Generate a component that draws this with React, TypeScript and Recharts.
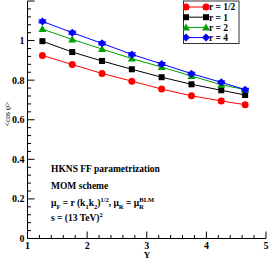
import { LineChart, Line, XAxis, YAxis, ErrorBar } from 'recharts'

const rapidity = [1.25, 1.75, 2.25, 2.75, 3.25, 3.75, 4.25, 4.65]
const rHalf = [0.925, 0.879, 0.834, 0.795, 0.755, 0.721, 0.695, 0.676]
const rOne = [0.997, 0.942, 0.897, 0.855, 0.815, 0.779, 0.749, 0.725]
const rTwo = [1.058, 1.006, 0.957, 0.909, 0.866, 0.821, 0.777, 0.752]
const rFour = [1.097, 1.04, 0.986, 0.93, 0.882, 0.833, 0.789, 0.752]
const rFourErr = [0.008, 0.008, 0.008, 0.008, 0.007, 0.007, 0.007, 0.007]

const xMajor = [1, 2, 3, 4, 5]
const yMajor = [0, 0.2, 0.4, 0.6, 0.8, 1, 1.2]
const yLabels = ['0', '0.2', '0.4', '0.6', '0.8', '1', '']

// 4 minor ticks between each major
const xTicks = Array.from({ length: 21 }, (_, i) => Math.round((1 + i * 0.2) * 100) / 100)
const yTicks = Array.from({ length: 31 }, (_, i) => Math.round(i * 0.04 * 100) / 100)

const data = rapidity.map((y, i) => ({
  y,
  half: rHalf[i],
  one: rOne[i],
  two: rTwo[i],
  four: rFour[i],
  err: rFourErr[i],
}))

const FONT = '"Liberation Serif", "Times New Roman", serif'

const isMajor = (v: number, majors: number[]) => majors.some(m => Math.abs(m - v) < 1e-6)

function Marker({ kind, cx, cy, color }: { kind: string; cx: number; cy: number; color: string }) {
  if (cx == null || cy == null) return null
  if (kind === 'circle') return <circle cx={cx} cy={cy} r={3.5} fill={color} />
  if (kind === 'square') return <rect x={cx - 3} y={cy - 3} width={6} height={6} fill={color} />
  if (kind === 'triangle')
    return <polygon points={`${cx},${cy - 4} ${cx - 4},${cy + 3} ${cx + 4},${cy + 3}`} fill={color} />
  return <polygon points={`${cx},${cy - 4} ${cx + 4},${cy} ${cx},${cy + 4} ${cx - 4},${cy}`} fill={color} />
}

const series = [
  { key: 'half', name: 'r = 1/2', color: '#ff0000', kind: 'circle' },
  { key: 'one', name: 'r = 1', color: '#000000', kind: 'square' },
  { key: 'two', name: 'r = 2', color: '#00a000', kind: 'triangle' },
  { key: 'four', name: 'r = 4', color: '#0000ff', kind: 'diamond' },
]

function BottomTick({ x, y, payload }: any) {
  const major = isMajor(payload.value, xMajor)
  return (
    <g>
      <line x1={x} x2={x} y1={y} y2={y - (major ? 7 : 3.5)} stroke="#000" />
      {major && (
        <text x={x} y={y + 10.5} textAnchor="middle" fontFamily={FONT} fontWeight="bold" fontSize={10} fill="#000">
          {payload.value}
        </text>
      )}
    </g>
  )
}

function TopTick({ x, y, payload }: any) {
  const major = isMajor(payload.value, xMajor)
  return <line x1={x} x2={x} y1={y} y2={y + (major ? 7 : 3.5)} stroke="#000" />
}

function LeftTick({ x, y, payload }: any) {
  const idx = yMajor.findIndex(m => Math.abs(m - payload.value) < 1e-6)
  const major = idx >= 0
  return (
    <g>
      <line x1={x} x2={x + (major ? 7 : 3.5)} y1={y} y2={y} stroke="#000" />
      {major && (
        <text x={x - 3} y={y + 3.5} textAnchor="end" fontFamily={FONT} fontWeight="bold" fontSize={10} fill="#000">
          {yLabels[idx]}
        </text>
      )}
    </g>
  )
}

function RightTick({ x, y, payload }: any) {
  const major = isMajor(payload.value, yMajor)
  return <line x1={x} x2={x - (major ? 7 : 3.5)} y1={y} y2={y} stroke="#000" />
}

function LegendBox() {
  return (
    <svg width={57} height={45} style={{ position: 'absolute', left: 183, top: 0 }}>
      <rect x={0.5} y={1} width={55.5} height={42.5} fill="#fff" stroke="#333" />
      {series.map((s, i) => {
        const cy = 7 + i * 10.2
        return (
          <g key={s.key}>
            <line x1={3} x2={23} y1={cy} y2={cy} stroke={s.color} />
            <Marker kind={s.kind} cx={3} cy={cy} color={s.color} />
            <Marker kind={s.kind} cx={23} cy={cy} color={s.color} />
            <text x={26} y={cy + 3.3} fontFamily={FONT} fontWeight="bold" fontSize={9.5} fill="#000">
              {s.name}
            </text>
          </g>
        )
      })}
    </svg>
  )
}

function Notes() {
  const t = { fontFamily: FONT, fontWeight: 'bold' as const, fontSize: 9.5, fill: '#000' }
  return (
    <svg width={270} height={260} style={{ position: 'absolute', left: 0, top: 0, pointerEvents: 'none' }}>
      <text x={51} y={172} {...t}>HKNS FF parametrization</text>
      <text x={51} y={188.5} {...t}>MOM scheme</text>
      <text x={51} y={206} {...t}>
        μ<tspan dy={2.5} fontSize={6.5}>F</tspan>
        <tspan dy={-2.5}> = r (k</tspan>
        <tspan dy={2.5} fontSize={6.5}>1</tspan>
        <tspan dy={-2.5}>k</tspan>
        <tspan dy={2.5} fontSize={6.5}>2</tspan>
        <tspan dy={-2.5}>)</tspan>
        <tspan dy={-4} fontSize={6.5}>1/2</tspan>
        <tspan dy={4}>, μ</tspan>
        <tspan dy={2.5} fontSize={6.5}>R</tspan>
        <tspan dy={-2.5}> = μ</tspan>
        <tspan dy={2.5} fontSize={6.5}>R</tspan>
        <tspan dy={-7} dx={-4.5} fontSize={6.5}>BLM</tspan>
      </text>
      <text x={51} y={220.5} {...t}>
        s = (13 TeV)<tspan dy={-4} fontSize={6.5}>2</tspan>
      </text>
      <text x={147} y={257.5} textAnchor="middle" {...t} fontSize={9}>Y</text>
      <text
        transform="translate(9.5,114) rotate(-90)"
        textAnchor="middle"
        fontFamily={FONT}
        fontSize={7.5}
        fill="#000"
      >
        &lt;cos φ&gt;
      </text>
    </svg>
  )
}

export default function App() {
  return (
    <div style={{ position: 'relative', width: 270, height: 260, background: '#fff' }}>
      <style>{'body{margin:0}'}</style>
      <LineChart width={270} height={260} data={data} margin={{ top: 1, right: 4, bottom: 0, left: 0 }}>
        <XAxis
          dataKey="y"
          type="number"
          domain={[1, 5]}
          ticks={xTicks}
          interval={0}
          height={21.5}
          tickSize={0}
          tickMargin={0}
          tickLine={false}
          axisLine={{ stroke: '#000' }}
          tick={<BottomTick />}
        />
        <XAxis
          xAxisId="top"
          dataKey="y"
          type="number"
          orientation="top"
          domain={[1, 5]}
          ticks={xTicks}
          interval={0}
          height={0}
          tickSize={0}
          tickMargin={0}
          tickLine={false}
          axisLine={{ stroke: '#000' }}
          tick={<TopTick />}
        />
        <YAxis
          type="number"
          domain={[0, 1.2]}
          ticks={yTicks}
          interval={0}
          width={27.5}
          tickSize={0}
          tickMargin={0}
          tickLine={false}
          axisLine={{ stroke: '#000' }}
          tick={<LeftTick />}
        />
        <YAxis
          yAxisId="right"
          type="number"
          orientation="right"
          domain={[0, 1.2]}
          ticks={yTicks}
          interval={0}
          width={0}
          tickSize={0}
          tickMargin={0}
          tickLine={false}
          axisLine={{ stroke: '#000' }}
          tick={<RightTick />}
        />
        {series.map(s => (
          <Line
            key={s.key}
            dataKey={s.key}
            stroke={s.color}
            strokeWidth={1}
            isAnimationActive={false}
            dot={(p: any) => <Marker key={`${s.key}-${p.index}`} kind={s.kind} cx={p.cx} cy={p.cy} color={s.color} />}
            activeDot={false}
          >
            {s.key === 'four' && <ErrorBar dataKey="err" width={4} stroke={s.color} strokeWidth={1} direction="y" />}
          </Line>
        ))}
      </LineChart>
      <Notes />
      <LegendBox />
    </div>
  )
}
